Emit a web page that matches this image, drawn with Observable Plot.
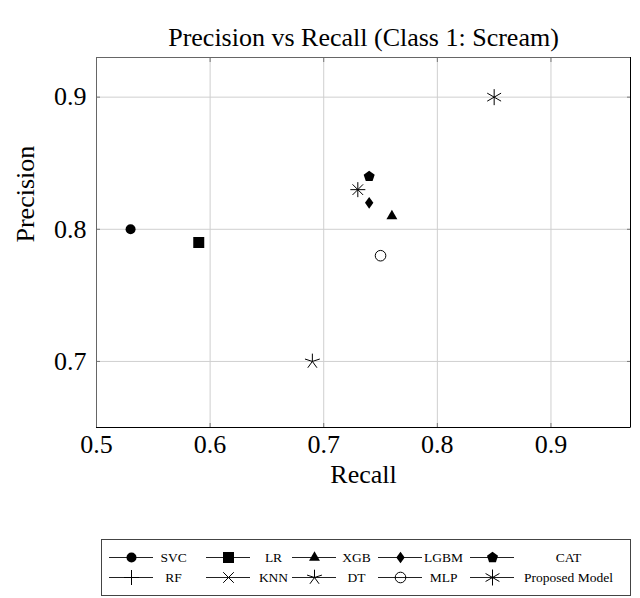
<!DOCTYPE html>
<html>
<head>
<meta charset="utf-8">
<script src="https://cdn.jsdelivr.net/npm/d3@7"></script>
<script src="https://cdn.jsdelivr.net/npm/@observablehq/plot@0.6"></script>
<style>
  html, body { margin: 0; padding: 0; background: #fff; }
  svg { display: block; }
</style>
</head>
<body>
<div id="chart"></div>
<script>
// ---- data ----
const models = ["SVC", "LR", "XGB", "LGBM", "CAT", "RF", "KNN", "DT", "MLP", "Proposed Model"];
const recall = [0.53, 0.59, 0.76, 0.74, 0.74, 0.73, 0.73, 0.69, 0.75, 0.85];
const precision = [0.80, 0.79, 0.81, 0.82, 0.84, 0.83, 0.83, 0.70, 0.78, 0.90];
const markerKinds = ["circleFilled", "squareFilled", "triangleFilled", "diamondFilled", "pentagonFilled",
                     "plus", "times", "star", "circleOpen", "asterisk"];
const xTicks = [0.5, 0.6, 0.7, 0.8, 0.9];
const yTicks = [0.7, 0.8, 0.9];
const xDomain = [0.5, 0.97];
const yDomain = [0.65, 0.93];
const titleText = "Precision vs Recall (Class 1: Scream)";
const xLabel = "Recall";
const yLabel = "Precision";

// ---- marker shapes ----
function polySym(pts) {
  return {draw(ctx) {
    ctx.moveTo(pts[0][0], pts[0][1]);
    for (let i = 1; i < pts.length; i++) ctx.lineTo(pts[i][0], pts[i][1]);
    ctx.closePath();
  }};
}
function regular(n, R, rot) {
  const pts = [];
  for (let k = 0; k < n; k++) {
    const t = (rot + k * 360 / n) * Math.PI / 180;
    pts.push([R * Math.cos(t), R * Math.sin(t)]);
  }
  return pts;
}
function raySym(angles, R) {
  return {draw(ctx) {
    for (const a of angles) {
      const t = a * Math.PI / 180;
      ctx.moveTo(0, 0);
      ctx.lineTo(R * Math.cos(t), -R * Math.sin(t));
    }
  }};
}
function circleSym(R) {
  return {draw(ctx) { ctx.moveTo(R, 0); ctx.arc(0, 0, R, 0, 2 * Math.PI); }};
}
const symbols = {
  circleFilled:   {sym: circleSym(5), filled: true},
  squareFilled:   {sym: polySym([[-5.5, -5.5], [5.5, -5.5], [5.5, 5.5], [-5.5, 5.5]]), filled: true},
  triangleFilled: {sym: polySym(regular(3, 6.3, -90)), filled: true},
  diamondFilled:  {sym: polySym([[0, -5.8], [4.2, 0], [0, 5.8], [-4.2, 0]]), filled: true},
  pentagonFilled: {sym: polySym(regular(5, 5.8, -90)), filled: true},
  plus:           {sym: raySym([0, 90, 180, 270], 7.5), filled: false},
  times:          {sym: raySym([45, 135, 225, 315], 7.5), filled: false},
  star:           {sym: raySym([90, 162, 234, 306, 18], 7.8), filled: false},
  circleOpen:     {sym: circleSym(5.3), filled: false},
  asterisk:       {sym: raySym([90, 270, 30, 210, 150, 330], 8), filled: false}
};
function dotStyle(kind) {
  const s = symbols[kind];
  return s.filled ? {symbol: s.sym, fill: "#000", stroke: "none"}
                  : {symbol: s.sym, fill: "none", stroke: "#000", strokeWidth: 1};
}

const data = models.map((m, i) => ({model: m, recall: recall[i], precision: precision[i], kind: markerKinds[i]}));

const fontFamily = "'Liberation Serif', 'Times New Roman', serif";
const fmt = d => d.toFixed(1);
const FS = 26;

const main = Plot.plot({
  width: 640,
  height: 500,
  marginTop: 57,
  marginBottom: 73,
  marginLeft: 96,
  marginRight: 10,
  style: {fontFamily, fontSize: FS + "px", color: "#000", background: "#fff"},
  x: {domain: xDomain},
  y: {domain: yDomain},
  marks: [
    Plot.gridX(xTicks, {stroke: "#cfcfcf", strokeOpacity: 1}),
    Plot.gridY(yTicks, {stroke: "#cfcfcf", strokeOpacity: 1}),
    Plot.axisX(xTicks, {anchor: "bottom", tickSize: -4, tickFormat: () => "", label: null, stroke: "#777"}),
    Plot.axisX(xTicks, {anchor: "top", tickSize: -4, tickFormat: () => "", label: null, stroke: "#777"}),
    Plot.axisY(yTicks, {anchor: "left", tickSize: -4, tickFormat: () => "", label: null, stroke: "#777"}),
    Plot.axisY(yTicks, {anchor: "right", tickSize: -4, tickFormat: () => "", label: null, stroke: "#777"}),
    Plot.axisX(xTicks, {anchor: "bottom", tickSize: 0, tickPadding: 7.5, tickFormat: fmt, label: null, fontSize: FS}),
    Plot.axisY(yTicks, {anchor: "left", tickSize: 0, tickPadding: 10, tickFormat: fmt, label: null, fontSize: FS}),
    Plot.frame({stroke: "#666"}),
    Plot.ruleY([yDomain[0]], {stroke: "#000"}),
    Plot.ruleX([xDomain[1]], {stroke: "#000"}),
    ...data.map(d => Plot.dot([d], {x: "recall", y: "precision", r: 5, ...dotStyle(d.kind)})),
    Plot.text([titleText], {frameAnchor: "top", text: d => d, dy: -29.5, fontSize: FS}),
    Plot.text([xLabel], {frameAnchor: "bottom", text: d => d, dy: 55.7, fontSize: FS}),
    Plot.text([yLabel], {frameAnchor: "left", text: d => d, rotate: -90, dx: -71.3, fontSize: FS})
  ]
});

// ---- legend ----
const legendCols = 5;
const colMarker = [131, 228, 314, 400, 492];
const colLabel = [173, 273, 356, 443, 568];
const rowY = [57, 77];
const lineHalf = 22;
const legendData = data.map((d, i) => ({
  ...d,
  mx: colMarker[i % legendCols],
  lx: colLabel[i % legendCols],
  ly: rowY[Math.floor(i / legendCols)]
}));

const legend = Plot.plot({
  width: 640,
  height: 98,
  marginTop: 39,
  marginBottom: 3,
  marginLeft: 101,
  marginRight: 10,
  style: {fontFamily, fontSize: "13.5px", color: "#000", background: "#fff"},
  x: {type: "identity", axis: null},
  y: {type: "identity", axis: null},
  marks: [
    Plot.frame({stroke: "#444"}),
    Plot.ruleY(legendData, {y: "ly", x1: d => d.mx - lineHalf, x2: d => d.mx + lineHalf, stroke: "#222"}),
    ...legendData.map(d => Plot.dot([d], {x: "mx", y: "ly", r: 5, ...dotStyle(d.kind)})),
    Plot.text(legendData, {x: "lx", y: "ly", text: "model", fontSize: 13.5})
  ]
});

const root = document.getElementById("chart");
root.appendChild(main);
root.appendChild(legend);
</script>
</body>
</html>
